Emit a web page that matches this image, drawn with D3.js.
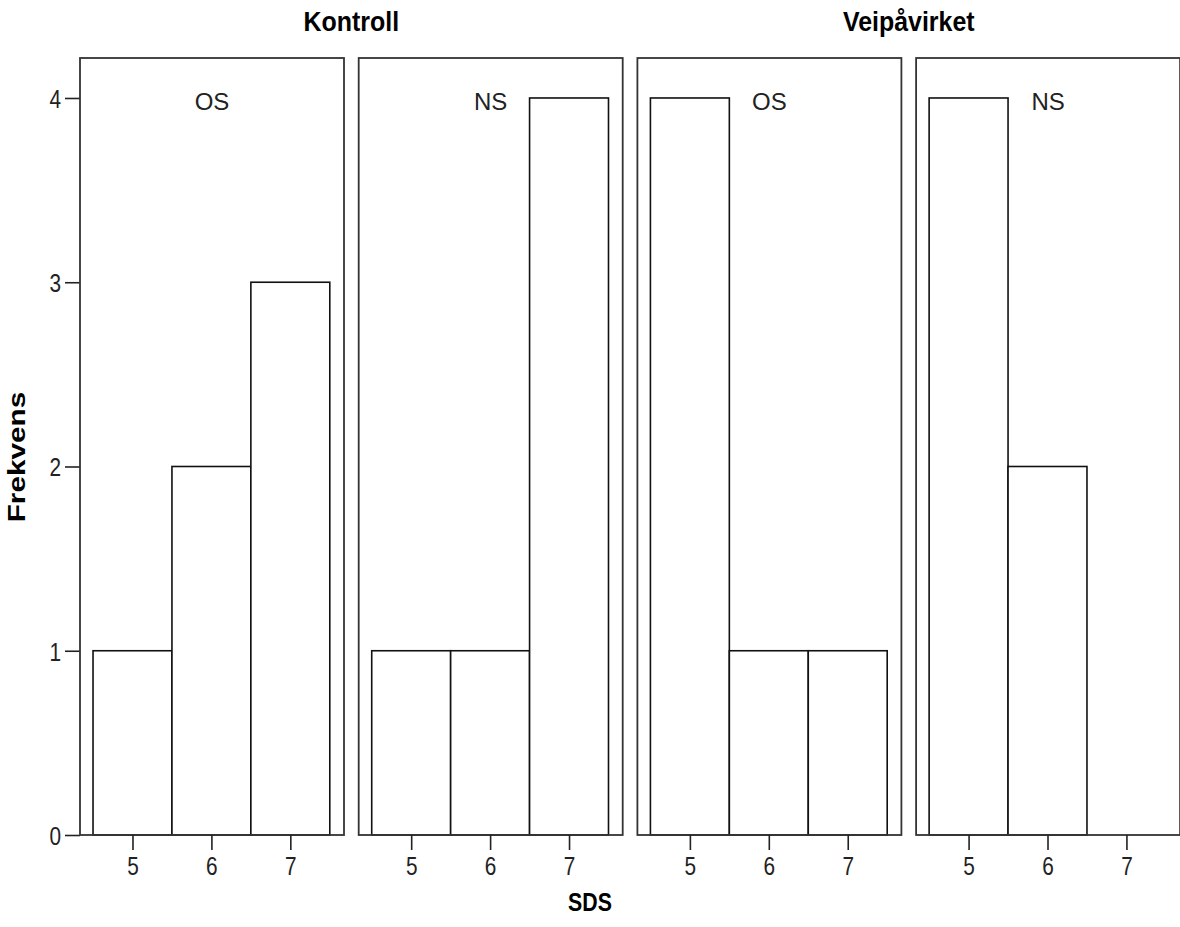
<!DOCTYPE html>
<html>
<head>
<meta charset="utf-8">
<script src="https://cdn.jsdelivr.net/npm/d3@7"></script>
<style>
  body { margin: 0; background: #fff; }
  svg { display: block; font-family: "Liberation Sans", Arial, sans-serif; }
</style>
</head>
<body>
<div class="canva"></div>
<script>
// data
const groups = ["Kontroll", "Veipåvirket"];
const subgroups = ["OS", "NS"];
const sdsValues = [5, 6, 7];
const kontrollOS = [1, 2, 3];
const kontrollNS = [1, 1, 4];
const veiOS = [4, 1, 1];
const veiNS = [4, 2, 0];
const yTicks = [0, 1, 2, 3, 4];

const panels = [
  { group: groups[0], label: subgroups[0], counts: kontrollOS },
  { group: groups[0], label: subgroups[1], counts: kontrollNS },
  { group: groups[1], label: subgroups[0], counts: veiOS },
  { group: groups[1], label: subgroups[1], counts: veiNS }
];

var width = 1180, height = 927;
var panelTop = 58, panelBottom = 835, panelW = 264, firstLeft = 80, step = 278.7;

// the original picture is stretched vertically, so text is narrowed a bit
function squish(sel, sx) {
  sel.each(function() {
    const t = d3.select(this);
    const x0 = +t.attr("x") || 0;
    t.attr("x", x0 / sx).attr("transform", `scale(${sx},1)`);
  });
}

const svg = d3.select(".canva").append("svg")
    .attr("width", width)
    .attr("height", height)
    .attr("viewBox", [0, 0, width, height]);

const y = d3.scaleLinear([0, 4.217], [panelBottom, panelTop]);
const x = d3.scaleLinear([4.335, 7.68], [0, panelW]);

// y axis
svg.append("g")
    .attr("transform", `translate(${firstLeft}, 0)`)
    .call(d3.axisLeft(y).tickValues(yTicks).tickSize(15).tickPadding(4).tickFormat(d3.format("d")))
    .call(g => g.select(".domain").remove())
    .call(g => g.selectAll(".tick line").attr("stroke", "#222").attr("stroke-width", 1.6))
    .call(g => g.selectAll(".tick text").attr("font-size", 26).attr("fill", "#222").attr("dy", "0.36em"))
    .call(g => squish(g.selectAll(".tick text"), 0.8));

panels.forEach((p, i) => {
  const left = firstLeft + i * step;
  const g = svg.append("g").attr("transform", `translate(${left}, 0)`);

  g.selectAll("rect.bar")
    .data(sdsValues.map((v, j) => ({ v, c: p.counts[j] })).filter(d => d.c > 0))
    .join("rect")
      .attr("class", "bar")
      .attr("x", d => x(d.v - 0.5))
      .attr("width", d => x(d.v + 0.5) - x(d.v - 0.5))
      .attr("y", d => y(d.c))
      .attr("height", d => y(0) - y(d.c))
      .attr("fill", "#fff")
      .attr("stroke", "#111")
      .attr("stroke-width", 1.6);

  g.append("rect")
      .attr("x", 0)
      .attr("y", panelTop)
      .attr("width", panelW)
      .attr("height", panelBottom - panelTop)
      .attr("fill", "none")
      .attr("stroke", "#333")
      .attr("stroke-width", 1.8);

  g.append("g")
      .attr("transform", `translate(0, ${panelBottom})`)
      .call(d3.axisBottom(x).tickValues(sdsValues).tickSize(15).tickPadding(7).tickFormat(d3.format("d")))
      .call(a => a.select(".domain").remove())
      .call(a => a.selectAll(".tick line").attr("stroke", "#222").attr("stroke-width", 1.6))
      .call(a => a.selectAll(".tick text").attr("font-size", 26).attr("fill", "#222"))
      .call(a => squish(a.selectAll(".tick text"), 0.8));

  g.append("text")
      .attr("x", panelW / 2)
      .attr("y", 110)
      .attr("text-anchor", "middle")
      .attr("font-size", 24)
      .attr("fill", "#222")
      .text(p.label);
});

// group titles
groups.forEach((grp, k) => {
  const l = firstLeft + (2 * k) * step;
  const r = firstLeft + (2 * k + 1) * step + panelW;
  svg.append("text")
      .attr("x", (l + r) / 2)
      .attr("y", 31)
      .attr("text-anchor", "middle")
      .attr("font-size", 28)
      .attr("font-weight", "bold")
      .text(grp)
      .call(t => squish(t, 0.89));
});

svg.append("text")
    .attr("x", 590)
    .attr("y", 911)
    .attr("text-anchor", "middle")
    .attr("font-size", 26)
    .attr("font-weight", "bold")
    .text("SDS")
    .call(t => squish(t, 0.82));

svg.append("g")
    .attr("transform", `translate(25, 457) rotate(-90)`)
  .append("text")
    .attr("text-anchor", "middle")
    .attr("font-size", 24)
    .attr("font-weight", "bold")
    .attr("transform", "scale(1.24,1)")
    .text("Frekvens");
</script>
</body>
</html>
